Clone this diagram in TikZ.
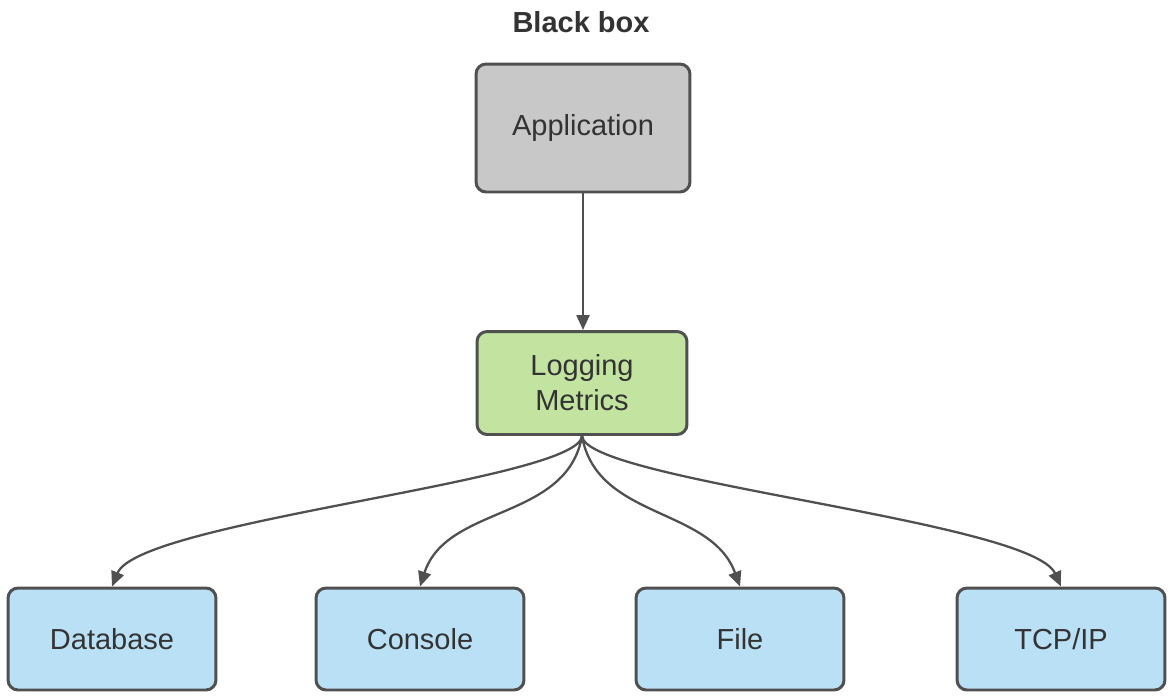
\documentclass[tikz,border=0pt]{standalone}
\usepackage{fontspec}
\setmainfont{Liberation Sans}
\usepackage{tikz}
\usetikzlibrary{arrows.meta,positioning,calc}
\definecolor{boxline}{HTML}{505050}
\definecolor{boxtext}{HTML}{333333}
\definecolor{appgray}{HTML}{C8C8C8}
\definecolor{loggreen}{HTML}{C2E4A0}
\definecolor{sinkblue}{HTML}{BAE0F6}
\begin{document}
\begin{tikzpicture}[x=0.02cm,y=-0.02cm,
  box/.style={draw=boxline,line width=1.7pt,rounded corners=0.2cm,text=boxtext,
    font=\fontsize{16.5}{20}\selectfont,align=center,inner sep=0pt},
  sink/.style={box,fill=sinkblue,minimum width=4.16cm,minimum height=2.04cm},
  flow/.style={draw=boxline,line width=1.3pt,-{Triangle[length=3mm,width=2.6mm]}}]
\useasboundingbox (0,0) rectangle (1174,698);
\node[font=\bfseries\fontsize{16.5}{20}\selectfont,text=boxtext] (title) at (581,22) {Black box};
\node[box,fill=appgray,minimum width=4.28cm,minimum height=2.56cm] (app) at (583,128) {Application};
\node[box,fill=loggreen,minimum width=4.2cm,minimum height=2.06cm] (log) at (582,383) {Logging\\Metrics};
\node[sink] (db) at (112,639) {Database};
\node[sink] (con) at (420,639) {Console};
\node[sink] (file) at (740,639) {File};
\node[sink] (tcp) at (1061,639) {TCP/IP};
% arrows
\draw[flow] (app.south) -- (app.south |- log.north);
\draw[flow] (log.south) .. controls ($(log.south)+(-3,45)$) and ($(db.north)+(27,-66)$) .. (db.north);
\draw[flow] (log.south) to[out=-100,in=72] (con.north);
\draw[flow] (log.south) to[out=-80,in=110] (file.north);
\draw[flow] (log.south) .. controls ($(log.south)+(3,45)$) and ($(tcp.north)+(-30,-66)$) .. (tcp.north);
\end{tikzpicture}
\end{document}
